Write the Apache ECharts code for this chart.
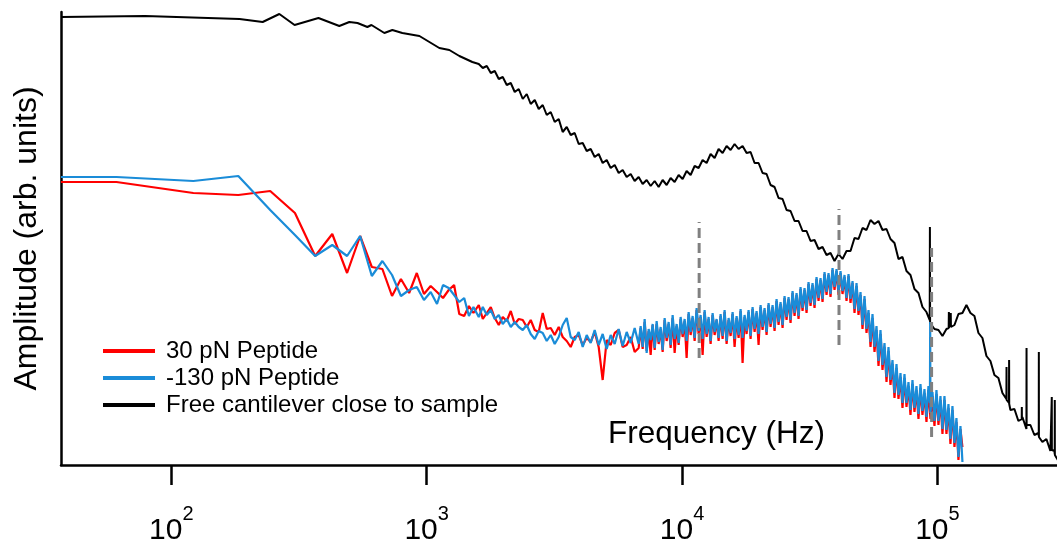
<!DOCTYPE html>
<html>
<head>
<meta charset="utf-8">
<script src="https://cdn.jsdelivr.net/npm/echarts@6/dist/echarts.min.js"></script>
<style>
html,body{margin:0;padding:0;background:#fff;}
#chart{width:1057px;height:546px;}
</style>
</head>
<body>
<div id="chart"></div>
<script>
// ---------- data (frequency in Hz, amplitude in arbitrary units) ----------
const tickValues = [100, 1000, 10000, 100000];

// low-frequency FFT bins of the peptide spectra
const peptideLowHz = [37,61,122,183,244,305,366,427,488,549,610,671,732,793,854,915,976,1037,1098,1159,1220,1281,1342,1403,1464,1525];
const redLow  = [283,283,272,270,274,252,209,231,192,229,198,196,169,186,172,192,171,179,173,167,175,180,151,149,159,152];
const blueLow = [288,288,284,289,255,230,209,220,209,229,189,204,190,169,175,178,165,173,161,180,177,170,163,167,149,158];

// sampled frequencies above 1.6 kHz
const gridHz = [1600,1659,1720,1783,1848,1916,1986,2059,2135,2213,2294,2379,2466,2556,2650,2747,2848,2953,3061,3173,
3290,3410,3536,3665,3800,3939,4084,4234,4389,4550,4717,4890,5070,5256,5449,5649,5856,6071,6294,6525,
6764,7013,7270,7537,7813,8100,8397,8706,9025,9356,9700,10056,10425,10807,11204,11615,12041,12483,12941,13416,
13908,14419,14948,15496,16065,16654,17265,17899,18556,19237,19943,20674,21433,22220,23035,23880,24757,25665,26607,27584,
28596,29645,30733,31861,33030,34243,35499,36802,38153,39553,41005,42510,44070,45687,47364,49102,50904,52773,54710,56717,
58799,60957,63194,65513,67918,70410,72994,75673,78451,81330,84315,87409,90617,93943,97390,100965,104670,108512,112494,116623,
120903,125340,129940,134709,139653,144778,150091,155600,161310,167230,173368,179730,186326,193164,200253,207602,215221,223120,231308,239797,
248597,257720,267178,276983,287148,297686];
// extra in-between frequencies in the dense part of the peptide spectra
const gridMidHz = [6887,7140,7402,7674,7955,8247,8550,8864,9189,9526,
9876,10239,10615,11003,11408,11826,12260,12710,13176,13660,
14161,14681,15220,15778,16357,16957,17579,18224,18893,19587,
20306,21050,21823,22624,23454,24314,25207,26132,27091,28086,
29116,30184,31292,32440,33631,34866,36145,37471,38847,40272,
41751,43284,44872,46518,48226,49995,51830,53733,55706,57749,
59869,62066,64344,66705,69154,71691,74322,77050,79879,82810,
85849,89000,92266,95653,99162,102802,106575,110487,114541,118745,
123103];

const redHigh = [160,146,152,158,147,140,148,144,154,141,
146,145,138,145,135,133,152,136,137,130,
138,128,124,118,128,130,120,127,123,133,
118,85,125,120,132,135,118,120,128,113,
117,116,114,110,115,121,113,124,117,112,
120,128,107,130,124,131,110,128,121,130,
124,126,121,129,118,127,102,131,126,133,
120,135,130,138,134,140,137,145,142,149,
146,154,152,159,157,164,163,170,168,175,
170,171,164,162,152,150,136,132,118,113,
99,95,83,80,67,66,57,58,50,53,
46,50,43,46,39,40,31,31,21,18,
5,18];
const redMid = [137,143,134,140,141,136,145,141,147,139,
146,144,151,147,155,148,153,146,150,145,
149,153,145,151,147,154,148,153,156,152,
158,155,160,158,164,161,167,166,172,170,
176,175,181,180,186,185,191,190,195,194,
192,188,189,182,179,170,166,152,147,135,
131,118,114,101,97,88,87,79,81,75,
77,72,75,69,71,65,65,57,55,43,
36];

const blueHigh = [148,158,150,155,146,150,141,146,138,143,
138,135,140,131,126,134,132,124,130,121,
128,140,147,128,125,133,118,130,122,135,
120,131,116,130,121,136,119,133,122,137,
121,118,112,125,117,123,115,127,120,126,
122,131,124,133,127,134,126,131,124,133,
127,129,124,132,126,130,127,134,129,136,
131,138,133,141,137,143,140,148,145,152,
149,157,155,162,160,167,166,173,171,178,
173,174,167,166,156,154,140,136,123,118,
104,100,88,85,72,70,62,62,55,57,
51,54,48,50,44,44,36,35,26,22,
8,3];
const blueMid = [139,146,136,141,144,138,147,143,150,141,
148,146,153,149,157,150,155,148,152,146,
151,155,147,153,149,156,150,155,158,154,
160,157,162,160,166,163,169,168,174,172,
178,177,183,182,188,187,193,192,197,196,
194,190,191,184,182,173,169,155,151,139,
135,122,118,105,101,92,91,83,85,79,
81,76,79,73,75,69,69,61,59,47,
39];
const blueSpikeHz  = [93500, 93700, 93900];
const blueSpikeAmp = [62, 143, 52];

const blackLowHz  = [37,79,185,228,265,304,377,455,498,536,586,608,683,734,803,937,1025,1121,1227,1343,1510];
const blackLowAmp = [448,449,446,443,451,440,447,439,443,442,438,440,432,435,432,429,423,417,415,409,403];
const blackHigh = [401,397,399,392,394,386,388,380,382,373,
376,366,371,361,365,356,360,350,353,343,
346,333,338,330,332,321,322,314,316,308,
311,302,305,297,300,292,295,288,291,284,
288,281,285,279,284,278,285,280,287,283,
290,286,294,290,299,297,305,302,311,307,
316,312,319,315,321,316,319,312,313,302,
302,292,291,280,278,267,266,255,254,244,
244,234,234,224,225,216,218,210,212,204,
211,206,214,214,227,226,237,235,245,241,
244,235,236,226,222,206,208,194,190,176,
172,158,153,143,136,135,129,136,137,140,
151,152,160,152,149,132,127,109,104,90,
87,72,70,55,56,44,48,36,40,30,
32,23,26,14,14,4];
const blackSpikeHz  = [93300,93470,93640, 110700,110900,111100, 112600,112800,113000, 186300,186500,186700,
  190700,190900,191100, 213900,214100,214300, 223200,223400,223600, 249400,249600,249800, 280300,280500,280700, 288000,288200,288400];
const blackSpikeAmp = [145,238,142, 137,153,137, 137,152,138, 66,98,65,
  62,105,61, 46,58,45, 41,117,40, 29,113,28, 16,68,15, 11,65,10];

// grey dashed markers
const markerHz     = [11670, 41180, 94900];
const markerTop    = [243, 256, 217];
const markerBottom = [107, 120, 28];

const seriesNames = ['30 pN Peptide', '-130 pN Peptide', 'Free cantilever close to sample'];
const seriesColors = ['#ff0000', '#1a8cd8', '#000000'];

// ---------- assembly ----------
function pairs(hz, amp) { return hz.map((h, i) => [h, amp[i]]); }
function merged(parts) {
  return [].concat(...parts).sort((a, b) => a[0] - b[0]);
}
const redData = merged([pairs(peptideLowHz, redLow), pairs(gridHz.slice(0, redHigh.length), redHigh), pairs(gridMidHz, redMid)]);
const blueData = merged([pairs(peptideLowHz, blueLow), pairs(gridHz.slice(0, blueHigh.length), blueHigh), pairs(gridMidHz, blueMid), pairs(blueSpikeHz, blueSpikeAmp)]);
const blackData = merged([pairs(blackLowHz, blackLowAmp), pairs(gridHz.slice(0, blackHigh.length), blackHigh), pairs(blackSpikeHz, blackSpikeAmp)]);

const FONT = "'Liberation Sans', Arial, sans-serif";

function lineSeries(name, color, data, width, z) {
  return {
    name: name, type: 'line', data: data, showSymbol: false, symbol: 'none',
    color: color, lineStyle: { color: color, width: width }, z: z,
    animation: false, sampling: null, clip: true
  };
}

const dashedSeries = markerHz.map((h, i) => ({
  type: 'line', data: [[h, markerBottom[i]], [h, markerTop[i]]],
  symbol: 'none', silent: true, z: 10, animation: false,
  lineStyle: { color: '#808080', width: 3, type: [10, 5] }
}));

const chart = echarts.init(document.getElementById('chart'), null, { renderer: 'canvas' });
chart.setOption({
  animation: false,
  backgroundColor: '#ffffff',
  textStyle: { fontFamily: FONT },
  title: {
    text: 'Frequency (Hz)', left: 608, top: 418, padding: 0,
    textStyle: { fontSize: 31.5, fontWeight: 'normal', color: '#000', fontFamily: FONT }
  },
  legend: {
    data: seriesNames, orient: 'vertical', left: 103, top: 339,
    icon: 'rect', itemWidth: 52, itemHeight: 4, itemGap: 3, padding: 0,
    textStyle: { fontSize: 24, color: '#000', fontFamily: FONT, padding: [0, 0, 0, 6] }
  },
  grid: { left: 61, right: 0, top: 12, bottom: 81, containLabel: false, outerBoundsMode: 'none' },
  xAxis: {
    type: 'log', logBase: 10, min: 37, max: 294000,
    axisLine: { show: true, onZero: false, lineStyle: { color: '#000', width: 2.5 } },
    axisTick: { show: true, inside: false, length: 20, customValues: tickValues, lineStyle: { color: '#000', width: 2.5 } },
    minorTick: { show: false },
    splitLine: { show: false },
    axisLabel: {
      customValues: tickValues, margin: 39,
      formatter: v => '{b|10}{s|' + Math.round(Math.log10(v)) + '}',
      rich: {
        b: { fontSize: 30, color: '#000', fontFamily: FONT, lineHeight: 42, verticalAlign: 'bottom' },
        s: { fontSize: 20, color: '#000', fontFamily: FONT, lineHeight: 10, verticalAlign: 'top' }
      }
    }
  },
  yAxis: {
    type: 'value', min: 0, max: 453,
    axisLine: { show: true, lineStyle: { color: '#000', width: 2.5 } },
    axisTick: { show: false }, axisLabel: { show: false }, splitLine: { show: false },
    name: 'Amplitude (arb. units)', nameLocation: 'middle', nameGap: 18, nameRotate: 90,
    nameTextStyle: { fontSize: 32, color: '#000', fontFamily: FONT }
  },
  series: [
    lineSeries(seriesNames[2], seriesColors[2], blackData, 2, 2),
    lineSeries(seriesNames[0], seriesColors[0], redData, 2.2, 3),
    lineSeries(seriesNames[1], seriesColors[1], blueData, 2.2, 4)
  ].concat(dashedSeries)
});
</script>
</body>
</html>
